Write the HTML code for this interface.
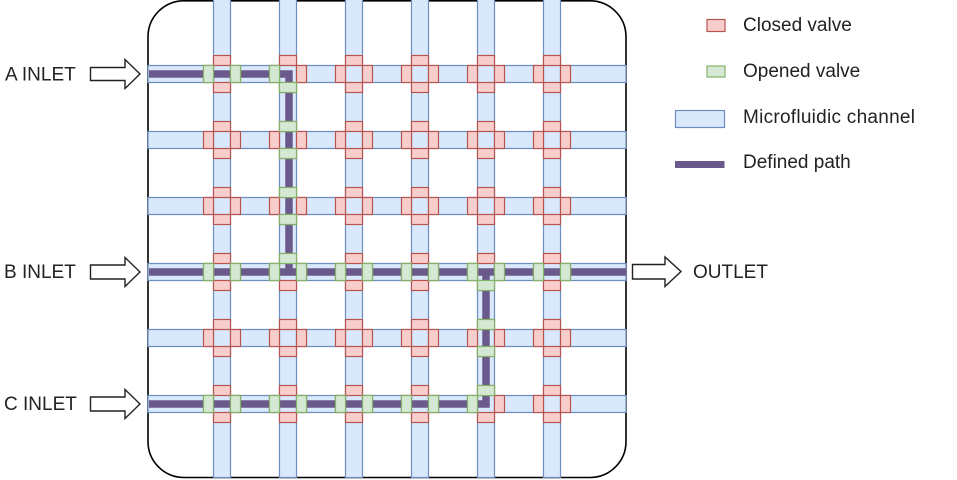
<!DOCTYPE html>
<html>
<head>
<meta charset="utf-8">
<style>
  html,body{margin:0;padding:0;background:#fff;}
  svg{display:block;}
  text{font-family:"Liberation Sans",Arial,sans-serif;font-size:19px;fill:#222;}
</style>
</head>
<body>
<svg width="957" height="480" viewBox="0 0 957 480" xmlns="http://www.w3.org/2000/svg">
  <defs>
    <rect id="T" x="-8.5" y="-18.5" width="17" height="10"/>
    <rect id="B" x="-8.5" y="8.5" width="17" height="10"/>
    <rect id="L" x="-18.5" y="-8.5" width="10" height="17"/>
    <rect id="R" x="8.5" y="-8.5" width="10" height="17"/>
    <g id="X"><use href="#T"/><use href="#B"/><use href="#L"/><use href="#R"/></g>
  </defs>

  <!-- container -->
  <rect x="148" y="0.8" width="478" height="476.7" rx="36" ry="36" fill="#fff" stroke="#000" stroke-width="1.6"/>

  <!-- horizontal channels -->
  <g fill="#dae8fc" stroke="#6c8ebf" stroke-width="1.2">
    <rect x="148" y="65.5" width="478" height="17"/>
    <rect x="148" y="131.5" width="478" height="17"/>
    <rect x="148" y="197.5" width="478" height="17"/>
    <rect x="148" y="263.5" width="478" height="17"/>
    <rect x="148" y="329.5" width="478" height="17"/>
    <rect x="148" y="395.5" width="478" height="17"/>
  </g>
  <!-- vertical channels -->
  <g fill="#dae8fc" stroke="#6c8ebf" stroke-width="1.2">
    <rect x="213.5" y="-2" width="17" height="479.5"/>
    <rect x="279.5" y="-2" width="17" height="479.5"/>
    <rect x="345.5" y="-2" width="17" height="479.5"/>
    <rect x="411.5" y="-2" width="17" height="479.5"/>
    <rect x="477.5" y="-2" width="17" height="479.5"/>
    <rect x="543.5" y="-2" width="17" height="479.5"/>
  </g>

  <!-- defined path -->
  <g fill="none" stroke="#6a5a8c" stroke-width="7.5" stroke-linejoin="miter">
    <polyline points="149,74 289,74 289,272"/>
    <polyline points="149,272 626,272"/>
    <polyline points="486,272 486,404 149,404"/>
  </g>

  <!-- closed valves (all) -->
  <g fill="#f8cecc" stroke="#b85450" stroke-width="1.2">
    <use href="#X" x="222" y="74"/><use href="#X" x="288" y="74"/><use href="#X" x="354" y="74"/><use href="#X" x="420" y="74"/><use href="#X" x="486" y="74"/><use href="#X" x="552" y="74"/>
    <use href="#X" x="222" y="140"/><use href="#X" x="288" y="140"/><use href="#X" x="354" y="140"/><use href="#X" x="420" y="140"/><use href="#X" x="486" y="140"/><use href="#X" x="552" y="140"/>
    <use href="#X" x="222" y="206"/><use href="#X" x="288" y="206"/><use href="#X" x="354" y="206"/><use href="#X" x="420" y="206"/><use href="#X" x="486" y="206"/><use href="#X" x="552" y="206"/>
    <use href="#X" x="222" y="272"/><use href="#X" x="288" y="272"/><use href="#X" x="354" y="272"/><use href="#X" x="420" y="272"/><use href="#X" x="486" y="272"/><use href="#X" x="552" y="272"/>
    <use href="#X" x="222" y="338"/><use href="#X" x="288" y="338"/><use href="#X" x="354" y="338"/><use href="#X" x="420" y="338"/><use href="#X" x="486" y="338"/><use href="#X" x="552" y="338"/>
    <use href="#X" x="222" y="404"/><use href="#X" x="288" y="404"/><use href="#X" x="354" y="404"/><use href="#X" x="420" y="404"/><use href="#X" x="486" y="404"/><use href="#X" x="552" y="404"/>
  </g>

  <!-- opened valves -->
  <g fill="#d5e8d4" stroke="#82b366" stroke-width="1.2">
    <use href="#L" x="222" y="74"/><use href="#R" x="222" y="74"/>
    <use href="#L" x="288" y="74"/><use href="#B" x="288" y="74"/>
    <use href="#T" x="288" y="140"/><use href="#B" x="288" y="140"/>
    <use href="#T" x="288" y="206"/><use href="#B" x="288" y="206"/>
    <use href="#L" x="222" y="272"/><use href="#R" x="222" y="272"/>
    <use href="#T" x="288" y="272"/><use href="#L" x="288" y="272"/><use href="#R" x="288" y="272"/>
    <use href="#L" x="354" y="272"/><use href="#R" x="354" y="272"/>
    <use href="#L" x="420" y="272"/><use href="#R" x="420" y="272"/>
    <use href="#L" x="486" y="272"/><use href="#R" x="486" y="272"/><use href="#B" x="486" y="272"/>
    <use href="#L" x="552" y="272"/><use href="#R" x="552" y="272"/>
    <use href="#T" x="486" y="338"/><use href="#B" x="486" y="338"/>
    <use href="#L" x="222" y="404"/><use href="#R" x="222" y="404"/>
    <use href="#L" x="288" y="404"/><use href="#R" x="288" y="404"/>
    <use href="#L" x="354" y="404"/><use href="#R" x="354" y="404"/>
    <use href="#L" x="420" y="404"/><use href="#R" x="420" y="404"/>
    <use href="#T" x="486" y="404"/><use href="#L" x="486" y="404"/>
  </g>

  <!-- inlet / outlet arrows -->
  <g fill="#fff" stroke="#222" stroke-width="1.4" stroke-linejoin="miter">
    <path d="M90.5,67.5 H125 V59.5 L140,74 L125,88.5 V80.5 H90.5 Z"/>
    <path d="M90.5,265 H125 V257.5 L140,272 L125,286.5 V279 H90.5 Z"/>
    <path d="M90.5,397 H125 V389.5 L140,404 L125,418.5 V411 H90.5 Z"/>
    <path d="M632.5,264.5 H665 V257 L681,271.5 L665,286.5 V279 H632.5 Z"/>
  </g>

  <!-- labels -->
  <text x="5" y="80.5">A INLET</text>
  <text x="4" y="278">B INLET</text>
  <text x="4" y="410">C INLET</text>
  <text x="693" y="278">OUTLET</text>

  <!-- legend -->
  <rect x="707" y="19.5" width="18" height="12" fill="#f8cecc" stroke="#b85450" stroke-width="1.2"/>
  <text x="743" y="31">Closed valve</text>
  <rect x="707" y="66" width="18" height="11" fill="#d5e8d4" stroke="#82b366" stroke-width="1.2"/>
  <text x="743" y="77">Opened valve</text>
  <rect x="675.5" y="110.5" width="49" height="17" fill="#dae8fc" stroke="#6c8ebf" stroke-width="1.2"/>
  <text x="743" y="123" textLength="172" lengthAdjust="spacing">Microfluidic channel</text>
  <line x1="675" y1="164.5" x2="724.5" y2="164.5" stroke="#6a5a8c" stroke-width="7"/>
  <text x="743" y="168">Defined path</text>
</svg>
</body>
</html>
